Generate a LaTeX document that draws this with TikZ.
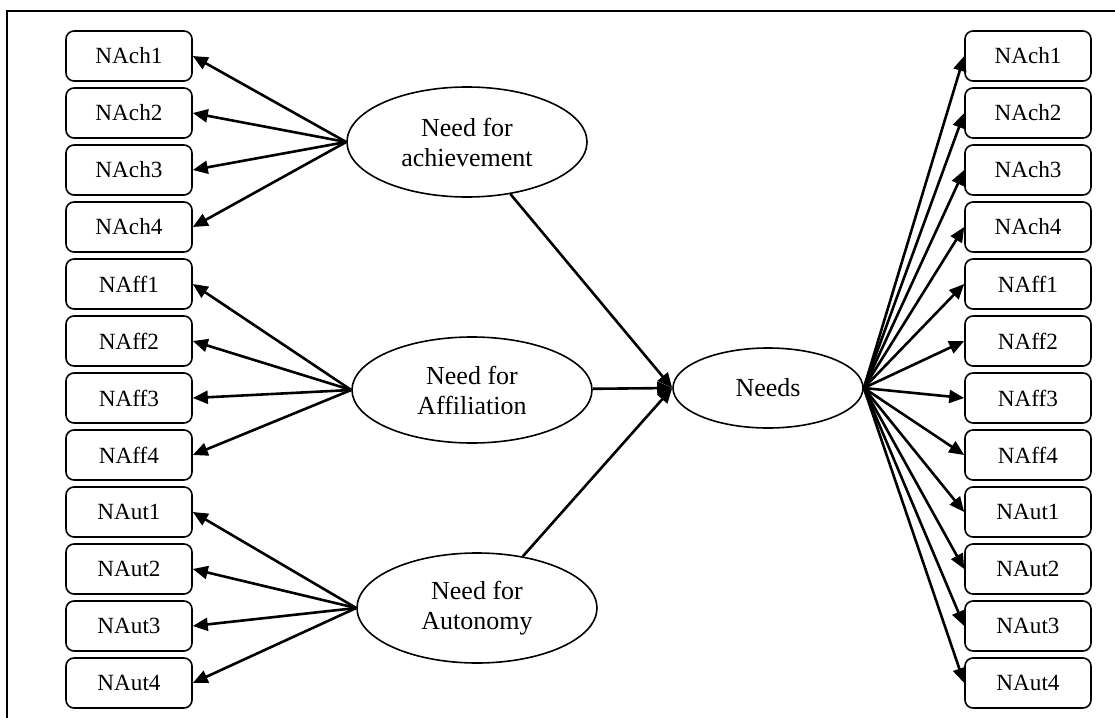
\documentclass[tikz,border=0pt]{standalone}
\usepackage{fontspec}
\setmainfont{Liberation Serif}
\usetikzlibrary{arrows.meta,shapes.geometric}
\tikzset{
  needsfig/.style={>={Triangle[length=7.5pt,width=6.5pt]},x=0.5pt,y=-0.5pt,
    every node/.style={font=\fontsize{11.6}{14.5}\selectfont,align=center}},
  itembox/.style={draw,line width=0.8pt,rounded corners=4pt,inner sep=0pt,
    minimum width=63pt,minimum height=25pt},
  factor/.style={draw,ellipse,line width=0.8pt,inner sep=0pt,
    minimum width=120pt,minimum height=55pt,
    font=\fontsize{13}{15}\selectfont},
  load/.style={->,line width=1.3pt},
}
\begin{document}
\begin{tikzpicture}[needsfig]
    \useasboundingbox (0,0) rectangle (1115,718);
    \draw[line width=0.9pt] (1115,11) -- (7,11) -- (7,718);

    % first-order factors and the second-order factor
    \node[factor] (ach) at (467,142) {Need for\\achievement};
    \node[factor,minimum height=53pt] (aff) at (472,390) {Need for\\Affiliation};
    \node[factor] (aut) at (477,608) {Need for\\Autonomy};
    \node[factor,minimum width=95pt,minimum height=40pt] (needs) at (768,388) {Needs};

    % indicators on the left
    \node[itembox] (lach1) at (129,56) {NAch1};
    \node[itembox] (lach2) at (129,113) {NAch2};
    \node[itembox] (lach3) at (129,170) {NAch3};
    \node[itembox] (lach4) at (129,227) {NAch4};
    \node[itembox] (laff1) at (129,284) {NAff1};
    \node[itembox] (laff2) at (129,341) {NAff2};
    \node[itembox] (laff3) at (129,398) {NAff3};
    \node[itembox] (laff4) at (129,455) {NAff4};
    \node[itembox] (laut1) at (129,512) {NAut1};
    \node[itembox] (laut2) at (129,569) {NAut2};
    \node[itembox] (laut3) at (129,626) {NAut3};
    \node[itembox] (laut4) at (129,683) {NAut4};

    % indicators on the right
    \node[itembox] (rach1) at (1028,56) {NAch1};
    \node[itembox] (rach2) at (1028,113) {NAch2};
    \node[itembox] (rach3) at (1028,170) {NAch3};
    \node[itembox] (rach4) at (1028,227) {NAch4};
    \node[itembox] (raff1) at (1028,284) {NAff1};
    \node[itembox] (raff2) at (1028,341) {NAff2};
    \node[itembox] (raff3) at (1028,398) {NAff3};
    \node[itembox] (raff4) at (1028,455) {NAff4};
    \node[itembox] (raut1) at (1028,512) {NAut1};
    \node[itembox] (raut2) at (1028,569) {NAut2};
    \node[itembox] (raut3) at (1028,626) {NAut3};
    \node[itembox] (raut4) at (1028,683) {NAut4};

    \draw[load] (ach.west) -- (lach1.east);
    \draw[load] (ach.west) -- (lach2.east);
    \draw[load] (ach.west) -- (lach3.east);
    \draw[load] (ach.west) -- (lach4.east);
    \draw[load] (aff.west) -- (laff1.east);
    \draw[load] (aff.west) -- (laff2.east);
    \draw[load] (aff.west) -- (laff3.east);
    \draw[load] (aff.west) -- (laff4.east);
    \draw[load] (aut.west) -- (laut1.east);
    \draw[load] (aut.west) -- (laut2.east);
    \draw[load] (aut.west) -- (laut3.east);
    \draw[load] (aut.west) -- (laut4.east);

    \draw[load] (ach) -- (needs.west);
    \draw[load] (aff) -- (needs.west);
    \draw[load] (aut) -- (needs.west);

    \draw[load] (needs.east) -- (rach1.west);
    \draw[load] (needs.east) -- (rach2.west);
    \draw[load] (needs.east) -- (rach3.west);
    \draw[load] (needs.east) -- (rach4.west);
    \draw[load] (needs.east) -- (raff1.west);
    \draw[load] (needs.east) -- (raff2.west);
    \draw[load] (needs.east) -- (raff3.west);
    \draw[load] (needs.east) -- (raff4.west);
    \draw[load] (needs.east) -- (raut1.west);
    \draw[load] (needs.east) -- (raut2.west);
    \draw[load] (needs.east) -- (raut3.west);
    \draw[load] (needs.east) -- (raut4.west);
  \end{tikzpicture}
\end{document}
